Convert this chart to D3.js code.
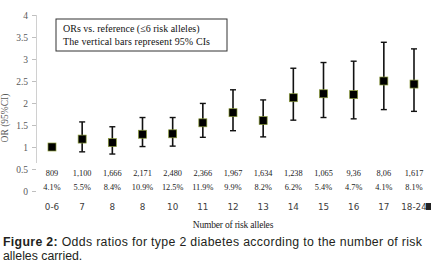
<!DOCTYPE html>
<html><head><meta charset="utf-8">
<script src="https://cdn.jsdelivr.net/npm/d3@7"></script>
<style>
html,body{margin:0;padding:0;background:#fff;}
svg{display:block;}
</style></head>
<body>
<svg id="c" width="431" height="271"></svg>
<script>
const categories = ["0-6","7","8","8","10","11","12","13","14","15","16","17","18-24"];
const orValues = [1.00,1.18,1.10,1.29,1.30,1.55,1.78,1.60,2.12,2.21,2.19,2.50,2.43];
const ciLower = [1.00,0.89,0.84,1.01,1.02,1.22,1.37,1.23,1.61,1.67,1.64,1.85,1.81];
const ciUpper = [1.00,1.57,1.46,1.67,1.67,1.99,2.30,2.07,2.79,2.92,2.95,3.38,3.23];
const counts = ["809","1,100","1,666","2,171","2,480","2,366","1,967","1,634","1,238","1,065","9,36","8,06","1,617"];
const percents = ["4.1%","5.5%","8.4%","10.9%","12.5%","11.9%","9.9%","8.2%","6.2%","5.4%","4.7%","4.1%","8.1%"];
const yTicks = [0,0.5,1,1.5,2,2.5,3,3.5,4];

const svg = d3.select("#c");
const y = d3.scaleLinear().domain([0,4]).range([191,15]);
const x = d3.scalePoint().domain(d3.range(categories.length)).range([52,414]);

// y axis
const serif = "'Liberation Serif','Times New Roman',serif";
const ax = svg.append("g").attr("transform","translate(36,0)")
  .call(d3.axisLeft(y).tickValues(yTicks).tickSize(4).tickPadding(4).tickFormat(d3.format("")));
ax.select(".domain").remove();
ax.selectAll(".tick line").attr("stroke","#bfbfbf");
ax.selectAll(".tick text").attr("font-family",serif).attr("font-size",9.5).attr("fill","#595959");
svg.append("line").attr("x1",36.5).attr("x2",36.5).attr("y1",y(4)).attr("y2",163).attr("stroke","#d0d0d0");

svg.append("text").attr("transform","translate(8,"+118+") rotate(-90)")
  .attr("text-anchor","middle").attr("font-family",serif).attr("font-size",9.5).attr("fill","#595959")
  .text("OR (95%CI)");

// legend box
svg.append("rect").attr("x",56).attr("y",19).attr("width",171).attr("height",32)
  .attr("fill","#fff").attr("stroke","#333").attr("stroke-width",1);
svg.append("text").attr("x",63).attr("y",32).attr("font-family",serif).attr("font-size",10).attr("fill","#111")
  .text("ORs  vs. reference (\u22646 risk alleles)");
svg.append("text").attr("x",63).attr("y",45).attr("font-family",serif).attr("font-size",10).attr("fill","#111")
  .attr("textLength",147).attr("lengthAdjust","spacing").text("The vertical bars represent 95% CIs");

// error bars
const g = svg.append("g");
categories.forEach((c,i)=>{
  if (ciUpper[i] !== ciLower[i]) {
    g.append("line").attr("x1",x(i)).attr("x2",x(i)).attr("y1",y(ciUpper[i])).attr("y2",y(ciLower[i]))
      .attr("stroke","#111").attr("stroke-width",1.6);
    [ciUpper[i],ciLower[i]].forEach(v=>{
      g.append("line").attr("x1",x(i)-3).attr("x2",x(i)+3).attr("y1",y(v)).attr("y2",y(v))
        .attr("stroke","#111").attr("stroke-width",1.4);
    });
  }
});
g.selectAll("rect.m").data(orValues).join("rect").attr("class","m")
  .attr("x",(d,i)=>x(i)-4).attr("y",d=>y(d)-4).attr("width",8).attr("height",8)
  .attr("fill","#000").attr("stroke","#8a9a3a").attr("stroke-width",0.7);

// table rows
svg.append("g").selectAll("text").data(counts).join("text")
  .attr("x",(d,i)=>x(i)).attr("y",176).attr("text-anchor","middle")
  .attr("font-family",serif).attr("font-size",8.3).attr("fill","#222").text(d=>d);
svg.append("g").selectAll("text").data(percents).join("text")
  .attr("x",(d,i)=>x(i)).attr("y",190).attr("text-anchor","middle")
  .attr("font-family",serif).attr("font-size",8.3).attr("fill","#222").text(d=>d);
svg.append("g").selectAll("text").data(categories).join("text")
  .attr("x",(d,i)=>x(i)).attr("y",210).attr("text-anchor","middle")
  .attr("font-family","'DejaVu Sans',sans-serif").attr("font-size",8.8).attr("fill","#404040").text(d=>d);
svg.append("rect").attr("x",426).attr("y",203).attr("width",5).attr("height",7).attr("fill","#222");

svg.append("text").attr("x",233).attr("y",228).attr("text-anchor","middle")
  .attr("font-family",serif).attr("font-size",9.5).attr("letter-spacing",-0.2).attr("fill","#222")
  .text("Number of risk alleles");

// caption
const cap1 = svg.append("text").attr("x",3).attr("y",246).attr("font-family","'Liberation Sans',Arial,sans-serif")
  .attr("font-size",12.3).attr("fill","#231f20").attr("textLength",419).attr("lengthAdjust","spacing");
cap1.append("tspan").attr("font-weight","bold").text("Figure 2:");
cap1.append("tspan").text(" Odds ratios for type 2 diabetes according to the number of risk");
svg.append("text").attr("x",3).attr("y",260).attr("font-family","'Liberation Sans',Arial,sans-serif")
  .attr("font-size",12.3).attr("fill","#231f20").text("alleles carried.");
</script>
</body></html>
